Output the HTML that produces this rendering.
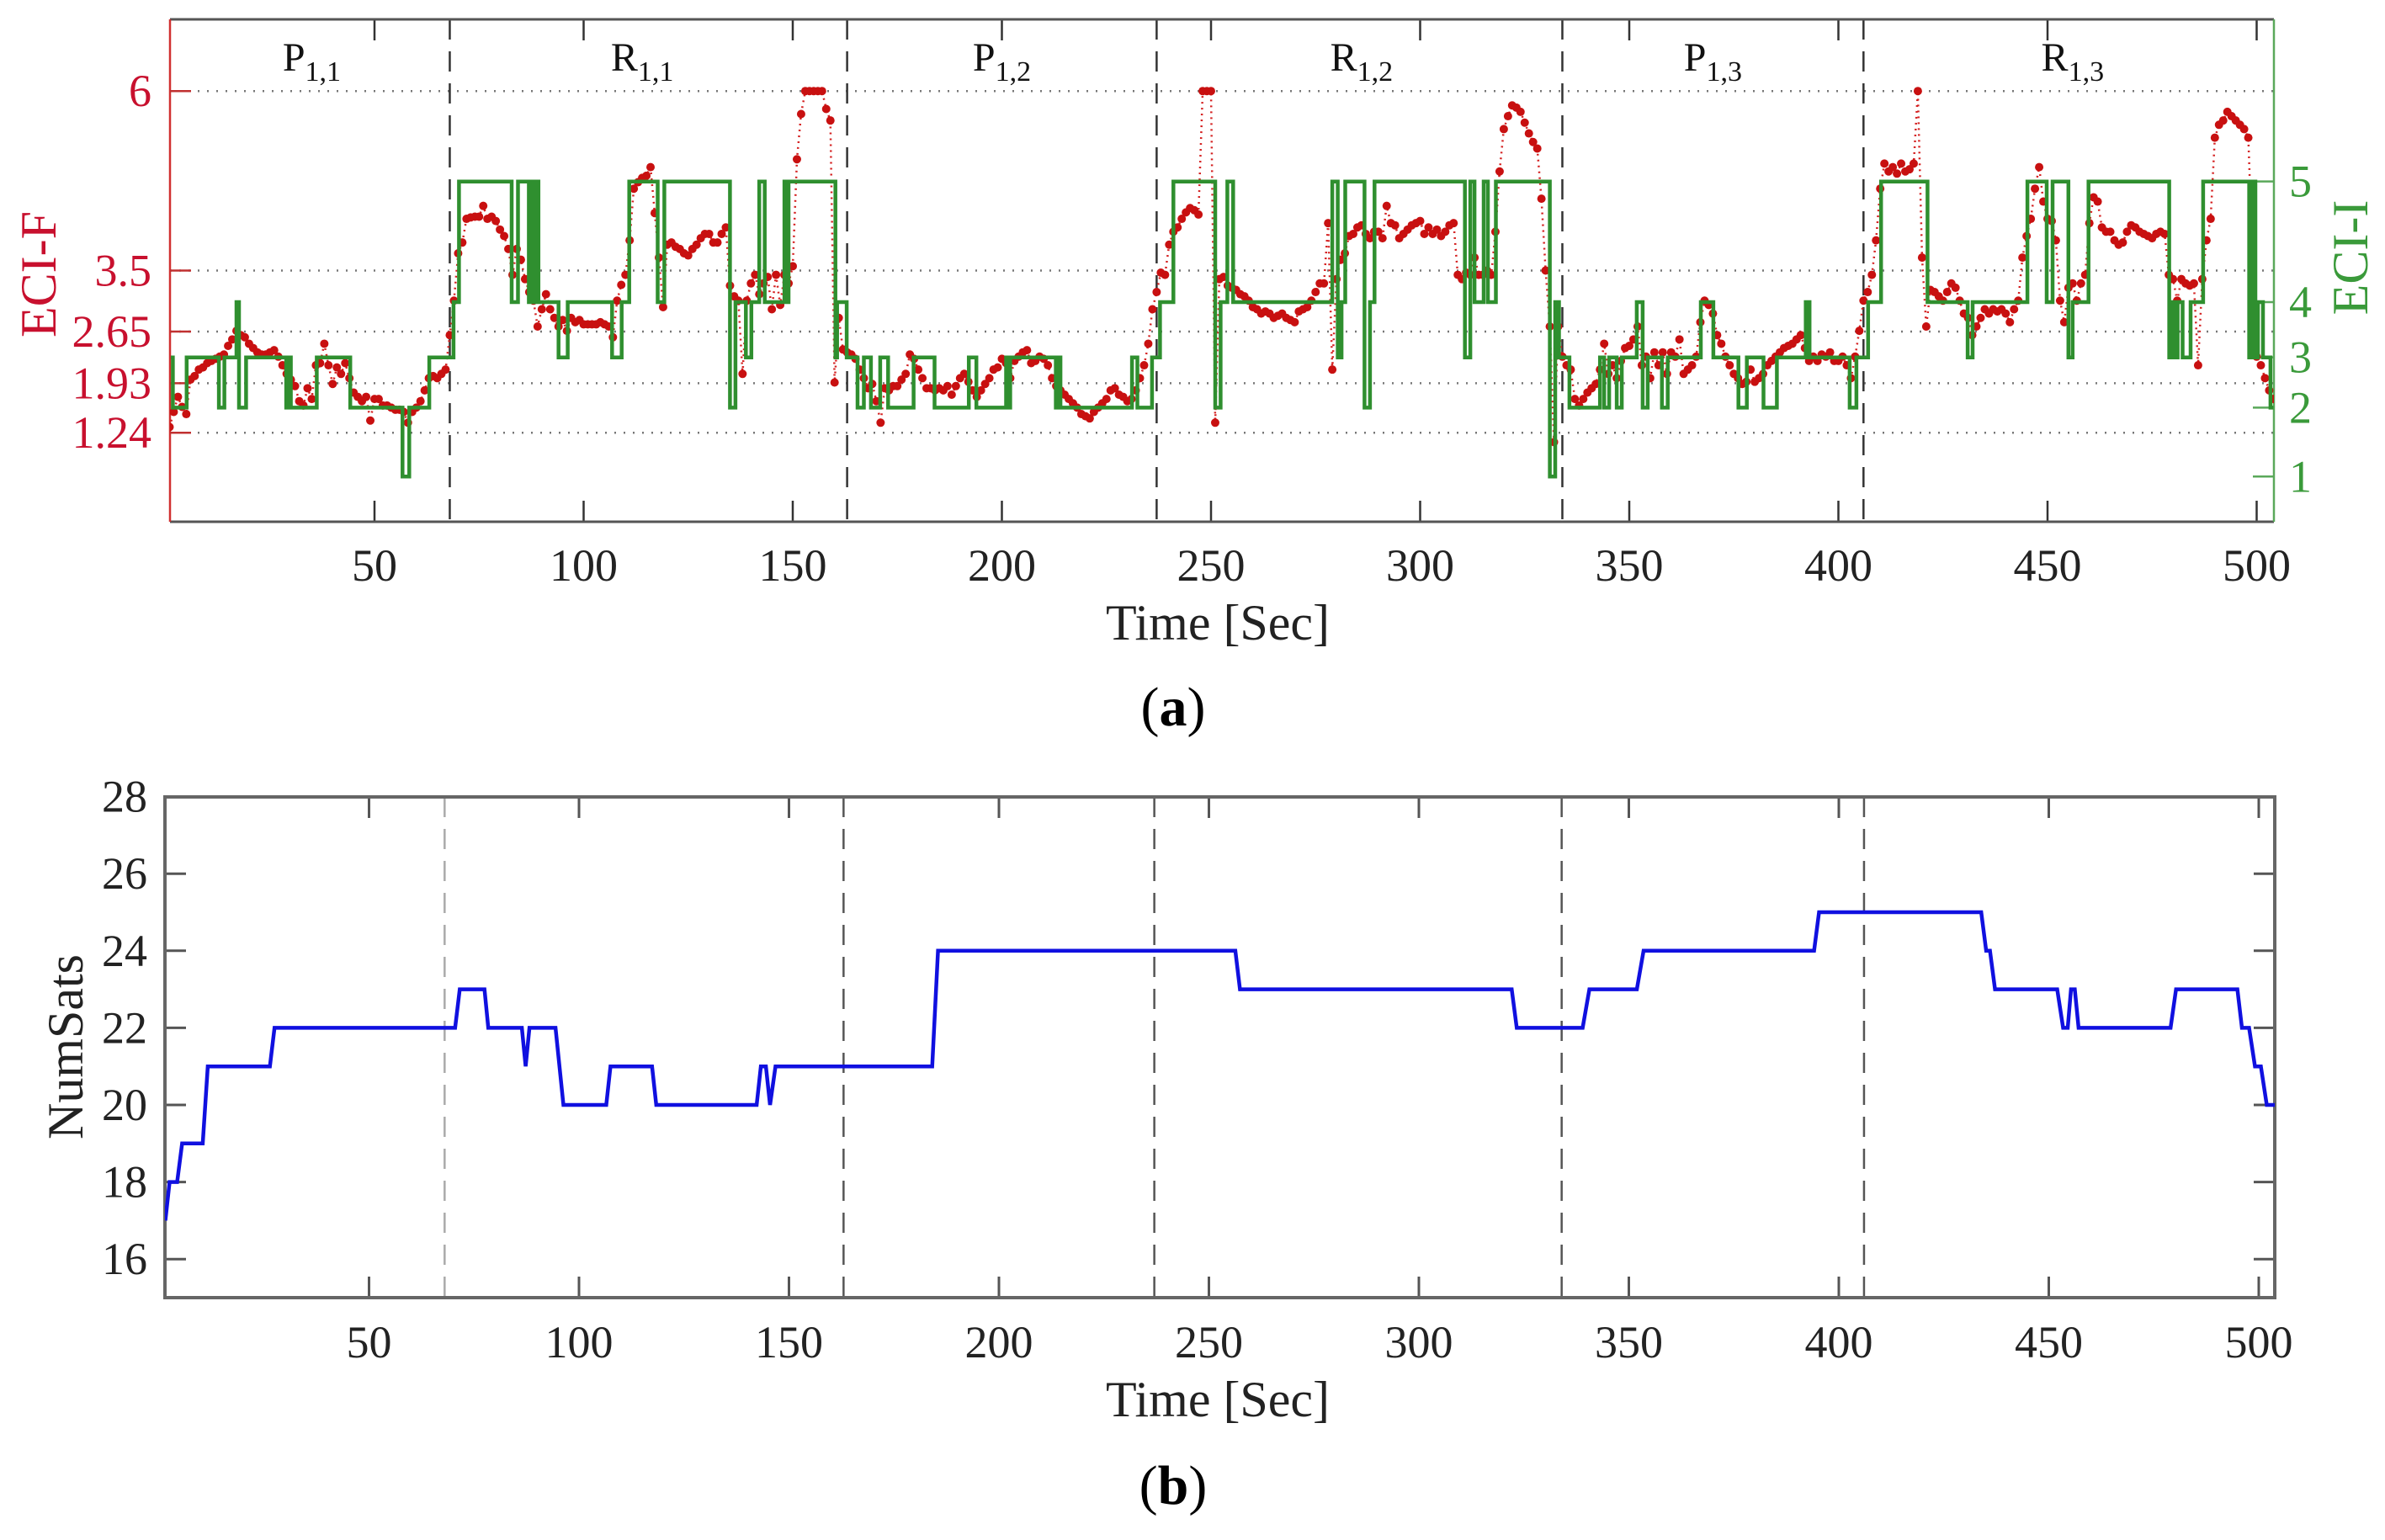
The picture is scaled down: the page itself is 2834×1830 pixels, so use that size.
<!DOCTYPE html>
<html><head><meta charset="utf-8"><style>
html,body{margin:0;padding:0;background:#fff;}
svg{display:block;}
text{font-family:"Liberation Serif",serif;}
</style></head><body>
<svg id="fig" width="2834" height="1830" viewBox="0 0 2834 1830" xmlns="http://www.w3.org/2000/svg">
<g id="topChart"></g>
<g id="botChart"></g>
</svg>
<script>
// ---------- data ----------
const xTicks = [50,100,150,200,250,300,350,400,450,500];
const eciFTicks = [6,3.5,2.65,1.93,1.24];
const eciFTickLabels = ["6","3.5","2.65","1.93","1.24"];
const eciILevels = [1,2,3,4,5];
const eciILevelF = [0.63,1.59,2.29,3.06,4.74];
const phaseBounds = [68,163,237,334,406];
const phaseNames = ["P","R","P","R","P","R"];
const phaseSubs = ["1,1","1,1","1,2","1,2","1,3","1,3"];
const phaseCenters = [35,114,200,286,370,456];
const numSatsTicks = [16,18,20,22,24,26,28];
const eciFStart = 1;
const eciFValues = [1.32,1.53,1.74,1.60,1.50,1.98,2.03,2.12,2.15,2.21,2.24,2.27,2.30,2.33,2.45,2.54,2.66,2.60,2.57,2.48,
2.42,2.36,2.33,2.33,2.36,2.39,2.30,2.18,2.06,1.98,1.89,1.68,1.62,1.86,1.71,2.18,2.21,2.48,2.18,1.92,
2.15,2.06,2.21,2.00,1.80,1.74,1.68,1.74,1.41,1.71,1.71,1.62,1.62,1.59,1.56,1.56,1.53,1.38,1.53,1.59,
1.68,1.83,2.00,2.03,2.00,2.06,2.12,2.60,3.08,3.74,3.89,4.22,4.24,4.25,4.25,4.40,4.22,4.25,4.19,4.07,
3.98,3.80,3.44,3.80,3.65,3.38,3.20,3.08,2.72,2.96,3.17,2.96,2.84,2.72,2.81,2.66,2.84,2.78,2.81,2.75,
2.75,2.75,2.75,2.78,2.75,2.72,2.57,3.08,3.30,3.44,3.92,4.64,4.73,4.79,4.82,4.94,4.30,3.68,2.99,3.86,
3.89,3.83,3.80,3.74,3.71,3.80,3.86,3.95,4.01,4.01,3.89,3.89,4.01,4.10,3.29,3.14,3.08,2.06,3.08,3.32,
3.44,3.17,3.32,3.41,2.96,3.44,3.02,3.44,3.32,3.56,5.05,5.68,6.0,6.0,6.0,6.0,6.0,5.75,5.59,1.94,
2.84,2.40,2.36,2.33,2.27,2.12,2.00,1.86,1.92,1.68,1.38,1.86,1.83,1.89,1.89,1.98,2.06,2.33,2.27,2.12,
2.00,1.86,1.86,1.83,1.86,1.83,1.89,1.77,1.89,2.00,2.06,1.95,1.83,1.74,1.83,1.92,2.00,2.12,2.15,2.27,
2.21,2.00,2.24,2.30,2.36,2.39,2.21,2.24,2.30,2.27,2.18,2.00,1.89,1.83,1.77,1.71,1.65,1.59,1.50,1.47,
1.44,1.53,1.59,1.65,1.71,1.83,1.86,1.77,1.74,1.68,1.71,1.83,2.00,2.18,2.48,2.96,3.20,3.47,3.44,3.86,
4.04,4.10,4.22,4.31,4.37,4.34,4.28,6.0,6.0,6.0,1.38,3.38,3.41,3.29,3.26,3.23,3.17,3.14,3.08,2.99,
2.96,2.90,2.93,2.90,2.84,2.87,2.90,2.84,2.81,2.78,2.93,2.96,2.99,3.08,3.20,3.32,3.32,4.16,2.12,3.38,
3.65,3.74,3.98,4.01,4.10,4.13,4.01,3.95,4.04,4.04,3.95,4.40,4.16,4.13,3.95,4.01,4.07,4.13,4.16,4.19,
4.01,4.10,4.01,4.07,3.98,4.04,4.13,4.16,3.44,3.38,3.47,3.44,3.68,3.44,3.44,3.50,3.44,4.04,4.88,5.47,
5.65,5.80,5.77,5.71,5.56,5.41,5.29,5.20,4.50,3.50,2.72,1.11,2.72,2.30,2.18,2.12,1.71,1.62,1.71,1.80,
1.86,1.92,2.12,2.48,2.06,2.18,2.00,2.24,2.42,2.45,2.54,2.72,2.18,2.30,2.00,2.36,2.18,2.36,2.06,2.36,
2.30,2.54,2.06,2.12,2.18,2.30,2.78,3.08,3.02,2.90,2.60,2.48,2.30,2.18,2.06,2.00,1.92,1.95,2.12,1.95,
2.00,2.06,2.18,2.24,2.30,2.36,2.42,2.45,2.48,2.54,2.60,2.42,2.24,2.30,2.24,2.33,2.30,2.36,2.24,2.24,
2.30,2.18,2.00,2.30,2.66,3.08,3.20,3.44,3.92,4.64,4.99,4.88,4.94,4.85,4.99,4.88,4.91,4.99,6.0,3.68,
2.72,3.23,3.20,3.14,3.08,3.20,3.32,3.26,3.08,2.90,2.84,2.60,2.72,2.84,2.96,2.90,2.96,2.93,2.96,2.90,
2.78,2.96,3.08,3.68,3.98,4.22,4.64,4.94,4.46,4.22,4.19,3.92,3.08,2.78,3.26,3.32,3.08,3.32,3.44,4.16,
4.52,4.46,4.10,4.04,4.04,3.92,3.86,3.89,4.04,4.13,4.10,4.04,4.01,3.98,3.95,4.01,4.04,4.01,3.44,3.38,
3.08,3.38,3.32,3.29,3.32,2.18,3.38,3.92,4.22,5.35,5.53,5.59,5.71,5.65,5.59,5.53,5.47,5.35,3.68,2.30,
2.18,2.00,1.83,1.71];
const eciITimes = [1.3,1.8,5.1,12.8,14.1,17,17.6,19.3,28.9,29.5,30,36.2,44.2,56.7,58.3,63.1,68.9,70.2,82.8,84.3,
86.9,87.3,87.7,88.5,89.2,94,96.2,106.8,109.1,110.9,117.7,119.3,135,136.3,138.8,140.1,142,143.3,148,148.5,
149,160.2,160.6,162.9,165.5,167,168.7,170.9,172.8,178.9,183.9,192.1,193.9,201,201.5,202,212.9,213.5,214,231.1,
232.4,235.9,237.8,241,251,252.3,253.9,255.3,279,280.3,281.2,282.1,286.7,288,289.1,310.7,312,313,315.2,316.2,
318.1,331,332.3,333.2,335.7,343,344,345.2,347,348.2,351.8,353.2,354.4,357.8,359.2,367.1,370.1,376.1,378.1,382.1,
385.3,392.2,393.1,402.7,404.3,407.1,410.2,421.3,430.9,432.1,445.2,449.8,451.2,455,456,459.8,479.1,479.9,480.5,481.1,
482.3,484.2,487.2,498.2,498.9,499.7,500.3,501.5,503.3,504];
const eciIValues = [3,2,3,2,3,4,2,3,2,3,2,3,2,1,2,3,4,5,4,5,
4,5,4,5,4,3,4,3,4,5,4,5,2,4,3,4,5,4,5,4,
5,3,4,3,2,3,2,3,2,3,2,3,2,3,2,3,2,3,2,3,
2,3,4,5,2,4,5,4,5,3,4,5,2,4,5,3,5,4,5,4,
5,1,4,3,2,3,2,3,2,3,4,2,3,2,3,4,3,2,3,2,
3,4,3,2,3,4,5,4,3,4,5,4,5,3,4,5,3,4,3,4,
3,4,5,3,5,3,4,3,2,2];
const satTimes = [1.5,2.5,4.3,5.5,10.4,11.6,26.4,27.5,70.5,71.6,77.5,78.4,86.4,87.3,88.2,94.4,96.3,106.5,107.5,117.4,
118.4,142.3,143.3,144.5,145.5,146.8,184.1,185.5,256.3,257.4,322.1,323.3,339,340.6,351.9,353.5,394.1,395.3,433.9,435.1,
436,437.2,452,453.4,454.5,455.3,456.2,457.1,479,480.3,494.9,496,497.7,499.1,500.5,501.9,503.8];
const satValues = [17,18,18,19,19,21,21,22,22,23,23,22,22,21,22,22,20,20,21,21,
20,20,21,21,20,21,21,24,24,23,23,22,22,23,23,24,24,25,25,24,
24,23,23,22,22,23,23,22,22,23,23,22,22,21,21,20,20];

// ---------- helpers ----------
const NS = "http://www.w3.org/2000/svg";
function mk(parent, tag, attrs, txt){
  const e = document.createElementNS(NS, tag);
  for (const k in attrs) e.setAttribute(k, attrs[k]);
  if (txt !== undefined) e.textContent = txt;
  parent.appendChild(e);
  return e;
}
const gTop = document.getElementById('topChart');
const gBot = document.getElementById('botChart');

const TL=202, TR=2702, TT=23, TB=620;
const xT = t => 196.5 + 4.97*t;
const yF = v => 620 - 85.3*v;
const yI = lvl => yF(eciILevelF[eciILevels.indexOf(lvl)]);
const BL=196, BR=2703, BT=947, BB=1542;
const xB = t => 189 + 4.99*t;
const yS = v => 1542 - 45.8*(v-15);

const defs = mk(document.getElementById('fig'),'defs',{});
const cp1 = mk(defs,'clipPath',{id:'clipTop'}); mk(cp1,'rect',{x:TL,y:TT,width:TR-TL,height:TB-TT});
const cp2 = mk(defs,'clipPath',{id:'clipBot'}); mk(cp2,'rect',{x:BL,y:BT,width:BR-BL,height:BB-BT});

// ===== TOP CHART =====
eciFTicks.forEach(v=>{
  const l = mk(gTop,'line',{x1:TL,x2:TR,y1:yF(v),y2:yF(v),stroke:'#777','stroke-width':2.5,'stroke-dasharray':'2 9'});
  
  
});
phaseBounds.forEach(t=>{
  const l = mk(gTop,'line',{x1:xT(t),x2:xT(t),y1:TT,y2:TB,stroke:'#333','stroke-width':2.5,'stroke-dasharray':'24 14'});
  
  
});
xTicks.forEach(t=>{
  const x=xT(t);
  mk(gTop,'line',{x1:x,x2:x,y1:TT,y2:TT+25,stroke:'#333','stroke-width':2.5});
  mk(gTop,'line',{x1:x,x2:x,y1:TB,y2:TB-25,stroke:'#333','stroke-width':2.5});
  const lb = mk(gTop,'text',{x:x,y:690,'font-size':54,'text-anchor':'middle',fill:'#222'},String(t));
  
  
});
mk(gTop,'line',{x1:TL,x2:TR,y1:TT,y2:TT,stroke:'#555','stroke-width':3});
mk(gTop,'line',{x1:TL,x2:TR,y1:TB,y2:TB,stroke:'#555','stroke-width':3});
const la = mk(gTop,'line',{x1:TL,x2:TL,y1:TT,y2:TB,stroke:'#d03030','stroke-width':2.5});
 
const ra = mk(gTop,'line',{x1:TR,x2:TR,y1:TT,y2:TB,stroke:'#5aa85a','stroke-width':2.5});
 
eciFTicks.forEach((v,i)=>{
  mk(gTop,'line',{x1:TL,x2:TL+25,y1:yF(v),y2:yF(v),stroke:'#c03030','stroke-width':2.5});
  const t = mk(gTop,'text',{x:180,y:yF(v)+18,'font-size':54,'text-anchor':'end',fill:'#c8102e'},eciFTickLabels[i]);
  
  
});
eciILevels.forEach(l=>{
  mk(gTop,'line',{x1:TR,x2:TR-25,y1:yI(l),y2:yI(l),stroke:'#5aa85a','stroke-width':2.5});
  const t = mk(gTop,'text',{x:2720,y:yI(l)+18,'font-size':54,fill:'#3a9a3a'},String(l));
  
  
});
const ft = mk(gTop,'text',{x:0,y:0,'font-size':60,'text-anchor':'middle',fill:'#c8102e',transform:'translate(66,326) rotate(-90)'},'ECI-F');
 
const it = mk(gTop,'text',{x:0,y:0,'font-size':60,'text-anchor':'middle',fill:'#3a9a3a',transform:'translate(2813,306) rotate(-90)'},'ECI-I');
 
const xt = mk(gTop,'text',{x:1447,y:760,'font-size':60,'text-anchor':'middle',fill:'#222'},'Time [Sec]');
 
const pa = mk(gTop,'text',{x:1394,y:862,'font-size':66,'text-anchor':'middle',fill:'#000'});
 
mk(pa,'tspan',{},'(');mk(pa,'tspan',{'font-weight':'bold'},'a');mk(pa,'tspan',{},')');
phaseCenters.forEach((c,i)=>{
  const t = mk(gTop,'text',{x:xT(c),y:84,'font-size':48,'text-anchor':'middle',fill:'#111','font-family':'"Liberation Sans",sans-serif'});
  
  
  mk(t,'tspan',{},phaseNames[i]);
  mk(t,'tspan',{'font-size':34,dy:12},phaseSubs[i]);
});
const gRed = mk(gTop,'g',{'clip-path':'url(#clipTop)'});
 
let dR='';
eciFValues.forEach((v,i)=>{ const t=eciFStart+i; dR += (i?'L':'M')+xT(t).toFixed(1)+' '+yF(v).toFixed(1); });
mk(gRed,'path',{d:dR,fill:'none',stroke:'#d42020','stroke-width':2.5,'stroke-dasharray':'2 5'});
eciFValues.forEach((v,i)=>{
  const c = mk(gRed,'circle',{cx:xT(eciFStart+i),cy:yF(v),r:5,fill:'#c81010'});
  
  
});
let dG='';
for(let i=0;i<eciITimes.length;i++){
  const x=xT(eciITimes[i]).toFixed(1), y=yI(eciIValues[i]).toFixed(1);
  if(i===0) dG='M'+x+' '+y;
  else { dG += 'L'+x+' '+yI(eciIValues[i-1]).toFixed(1)+'L'+x+' '+y; }
}
const gp = mk(gTop,'path',{d:dG,fill:'none',stroke:'#2f8f2f','stroke-width':4.5,'clip-path':'url(#clipTop)'});
 

// ===== BOTTOM CHART =====
phaseBounds.forEach((t,i)=>{
  const l = mk(gBot,'line',{x1:xB(t),x2:xB(t),y1:BT,y2:BB,stroke:i===0?'#aaa':'#555','stroke-width':2.5,'stroke-dasharray':'24 14'});
  
  
});
xTicks.forEach(t=>{
  const x=xB(t);
  mk(gBot,'line',{x1:x,x2:x,y1:BT,y2:BT+25,stroke:'#555','stroke-width':3});
  mk(gBot,'line',{x1:x,x2:x,y1:BB,y2:BB-25,stroke:'#555','stroke-width':3});
  const lb = mk(gBot,'text',{x:x,y:1613,'font-size':54,'text-anchor':'middle',fill:'#222'},String(t));
  
  
});
numSatsTicks.forEach(v=>{
  const y=yS(v);
  mk(gBot,'line',{x1:BL,x2:BL+25,y1:y,y2:y,stroke:'#555','stroke-width':3});
  mk(gBot,'line',{x1:BR,x2:BR-25,y1:y,y2:y,stroke:'#555','stroke-width':3});
  const lb = mk(gBot,'text',{x:175,y:y+18,'font-size':54,'text-anchor':'end',fill:'#222'},String(v));
  
  
});
const fr = mk(gBot,'rect',{x:BL,y:BT,width:BR-BL,height:BB-BT,fill:'none',stroke:'#666','stroke-width':4});
 
let dB='';
satTimes.forEach((t,i)=>{ dB += (i?'L':'M')+xB(t).toFixed(1)+' '+yS(satValues[i]).toFixed(1); });
const bp = mk(gBot,'path',{d:dB,fill:'none',stroke:'#1010e0','stroke-width':4.5,'clip-path':'url(#clipBot)'});
 
const yt = mk(gBot,'text',{x:0,y:0,'font-size':60,'text-anchor':'middle',fill:'#222',transform:'translate(98,1244) rotate(-90)'},'NumSats');
 
const xt2 = mk(gBot,'text',{x:1447,y:1683,'font-size':60,'text-anchor':'middle',fill:'#222'},'Time [Sec]');
 
const pb = mk(gBot,'text',{x:1394,y:1787,'font-size':66,'text-anchor':'middle',fill:'#000'});
 
mk(pb,'tspan',{},'(');mk(pb,'tspan',{'font-weight':'bold'},'b');mk(pb,'tspan',{},')');
</script>
</body></html>
